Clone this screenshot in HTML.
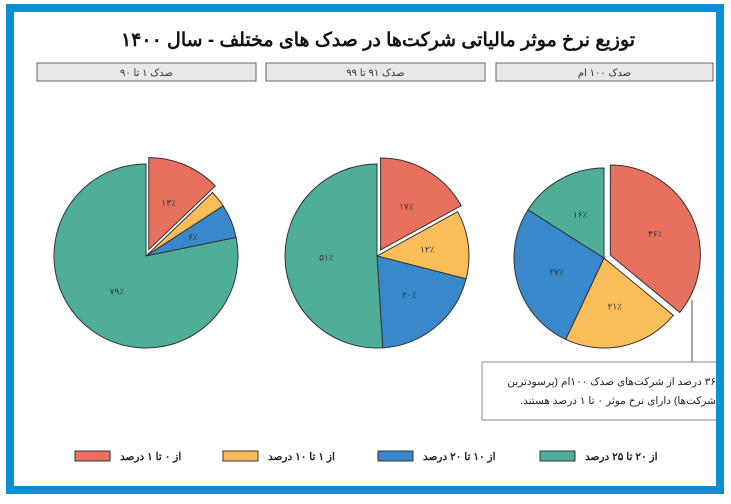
<!DOCTYPE html>
<html><head><meta charset="utf-8"><style>
body{margin:0;background:#fff;width:731px;height:499px;overflow:hidden;font-family:"Liberation Sans","Noto Sans CJK SC",sans-serif}
</style></head><body>
<svg id="chart" width="731" height="499" viewBox="0 0 731 499" xmlns="http://www.w3.org/2000/svg">
<rect x="0" y="0" width="731" height="499" fill="#fff"/>
<text x="378" y="46" text-anchor="middle" font-size="19" font-weight="bold" fill="#111" direction="rtl">توزیع نرخ موثر مالیاتی شرکت‌ها در صدک های مختلف - سال ۱۴۰۰</text>
<g id="panels"></g>
<g id="pies"></g>
<line x1="692" y1="300" x2="692" y2="362" stroke="#555" stroke-width="1"/>
<rect x="482" y="362" width="236" height="58" fill="#fff" stroke="#888"/>
<text x="716" y="385" text-anchor="start" font-size="10.5" fill="#222" direction="rtl">۳۶ درصد از شرکت‌های صدک ۱۰۰ام (پرسودترین</text>
<text x="716" y="404" text-anchor="start" font-size="10.5" fill="#222" direction="rtl">شرکت‌ها) دارای نرخ موثر ۰ تا ۱ درصد هستند.</text>
<g id="legend"></g>
<rect x="10" y="8" width="710" height="482" fill="none" stroke="#0a8fd2" stroke-width="8"/>
</svg>
<script>
const NS="http://www.w3.org/2000/svg";
const panelTitles=["صدک ۱ تا ۹۰","صدک ۹۱ تا ۹۹","صدک ۱۰۰ ام"];
const categories=["از ۰ تا ۱ درصد","از ۱ تا ۱۰ درصد","از ۱۰ تا ۲۰ درصد","از ۲۰ تا ۲۵ درصد"];
const colors=["#e8705e","#fbbd5a","#3a88cc","#4fae98"];
const valuesP1=[13,3,6,79];
const valuesP2=[17,12,20,51];
const valuesP3=[36,21,27,16];
const allValues=[valuesP1,valuesP2,valuesP3];
const fa=n=>String(n).replace(/\d/g,d=>"۰۱۲۳۴۵۶۷۸۹"[d]);
function mk(tag,attrs,parent){const e=document.createElementNS(NS,tag);for(const k in attrs)e.setAttribute(k,attrs[k]);parent.appendChild(e);return e;}
const panelX=[37,266,496],panelW=[219,219,217];
const centers=[[146,256],[377,256],[604,258]];
const radii=[92,92,90];
const panels=document.getElementById('panels');
panelTitles.forEach((t,i)=>{
  const r=mk('rect',{x:panelX[i],y:63,width:panelW[i],height:18,fill:'#e8e8e8',stroke:'#666'},panels);
  
  
  const tx=mk('text',{x:panelX[i]+panelW[i]/2,y:76,'text-anchor':'middle','font-size':10,fill:'#333',direction:'rtl'},panels);
  tx.textContent=t;
  
  
});
const pies=document.getElementById('pies');
allValues.forEach((vals,p)=>{
  const [cx,cy]=centers[p],R=radii[p];
  const tot=vals.reduce((a,b)=>a+b,0);
  let a0=0;
  vals.forEach((v,i)=>{
    const a1=a0+v/tot*2*Math.PI, am=(a0+a1)/2;
    const off=i===0?7:0;
    const ox=cx+off*Math.sin(am), oy=cy-off*Math.cos(am);
    const x0=ox+R*Math.sin(a0),y0=oy-R*Math.cos(a0),x1=ox+R*Math.sin(a1),y1=oy-R*Math.cos(a1);
    const large=(a1-a0)>Math.PI?1:0;
    const path=mk('path',{d:`M${ox},${oy}L${x0},${y0}A${R},${R} 0 ${large} 1 ${x1},${y1}Z`,fill:colors[i],stroke:'#333','stroke-width':1},pies);
    
    
    if(v>=5){
      const lr=R*(v>60?0.5:0.55);
      const lb=mk('text',{x:ox+lr*Math.sin(am),y:oy-lr*Math.cos(am)+3,'text-anchor':'middle','font-size':9,fill:'#333'},pies);
      lb.textContent=fa(v)+"٪";
      
      
    }
    a0=a1;
  });
});
const legend=document.getElementById('legend');
const swX=[75,223,378,540];
categories.forEach((c,i)=>{
  const r=mk('rect',{x:swX[i],y:451,width:35,height:10,fill:colors[i],stroke:'#333'},legend);
  
  
  const t=mk('text',{x:swX[i]+45,y:460,'text-anchor':'start','font-size':10.5,'font-weight':'bold',fill:'#222',direction:'ltr'},legend);
  t.textContent=c;
  
  
});
</script>
</body></html>
